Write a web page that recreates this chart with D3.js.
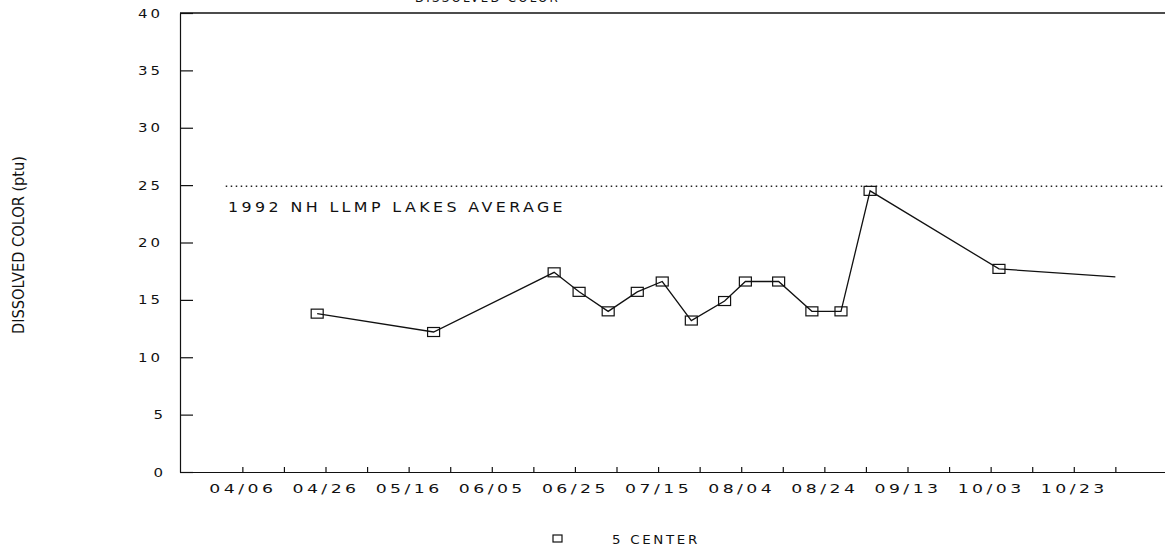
<!DOCTYPE html>
<html>
<head>
<meta charset="utf-8">
<script src="https://cdn.jsdelivr.net/npm/d3@7"></script>
<style>
  body { margin: 0; background: #fff; }
  svg { display: block; }
  text { font-family: "DejaVu Sans", sans-serif; fill: #111; }
</style>
</head>
<body>
<svg width="1165" height="550"></svg>
<script>
// sampling dates (1992) and dissolved colour readings, station 5 CENTER
const sampleDates = ["04/24", "05/22", "06/20", "06/26", "07/03", "07/10", "07/16", "07/23",
                     "07/31", "08/05", "08/13", "08/21", "08/28", "09/04", "10/05", "11/02"];
const colorValues = [13.8, 12.2, 17.4, 15.7, 14.0, 15.7, 16.6, 13.2,
                     14.9, 16.6, 16.6, 14.0, 14.0, 24.5, 17.7, 17.0];
// last reading is drawn without a marker in the original
const markerShown = sampleDates.map((d, i) => i < sampleDates.length - 1);

const lakesAverage = 24.9;
const xTickLabels = ["04/06", "04/26", "05/16", "06/05", "06/25", "07/15",
                     "08/04", "08/24", "09/13", "10/03", "10/23"];
const yTicks = [0, 5, 10, 15, 20, 25, 30, 35, 40];

const parse = d3.utcParse("%m/%d/%Y");
const day = s => parse(s + "/1992");

const svg = d3.select("svg");

// wide plotter-like lettering: spread and stretch to a measured width
function wide(sel, len, spacing) {
    sel.attr("letter-spacing", spacing)
       .attr("textLength", len)
       .attr("lengthAdjust", "spacingAndGlyphs");
}

const x = d3.scaleUtc()
    .domain([day("03/22"), day("11/22")])
    .range([180, 1198.5]);
const y = d3.scaleLinear().domain([0, 40]).range([472, 13]);

// ticks every 10 days, labelled every 20
const tickDates = d3.range(0, 22).map(i => d3.utcDay.offset(day("04/06"), i * 10));

const xAxis = svg.append("g")
    .attr("transform", "translate(0,472)")
    .call(d3.axisBottom(x)
        .tickValues(tickDates)
        .tickSizeInner(-5)
        .tickSizeOuter(0)
        .tickPadding(12)
        .tickFormat((d, i) => i % 2 === 0 ? (xTickLabels[i / 2] || "") : ""));
xAxis.selectAll("text")
    .attr("font-size", 12.5)
    .attr("font-family", "DejaVu Sans")
    .each(function() {
        if (this.textContent) wide(d3.select(this), 67, 2.5);
    });

const yAxis = svg.append("g")
    .attr("transform", "translate(180,0)")
    .call(d3.axisLeft(y)
        .tickValues(yTicks)
        .tickSizeInner(-13)
        .tickSizeOuter(0)
        .tickPadding(17));
yAxis.selectAll("text")
    .attr("font-size", 12.5)
    .attr("font-family", "DejaVu Sans")
    .each(function() {
        if (this.textContent.length > 1) wide(d3.select(this), 25, 2.5);
        else d3.select(this).attr("transform", "scale(1.2,1)").attr("x", -17 / 1.2);
    });

svg.selectAll(".domain, .tick line").attr("stroke", "#111").attr("stroke-width", 1.2);

// top frame line
svg.append("line")
    .attr("x1", x.range()[0]).attr("x2", x.range()[1])
    .attr("y1", y(40)).attr("y2", y(40))
    .attr("stroke", "#111").attr("stroke-width", 1.6);

// lakes average reference
svg.append("line")
    .attr("x1", x(day("04/02"))).attr("x2", x.range()[1])
    .attr("y1", y(lakesAverage)).attr("y2", y(lakesAverage))
    .attr("stroke", "#222").attr("stroke-width", 1.3)
    .attr("stroke-dasharray", "1.5,3.5");

svg.append("text")
    .attr("x", 228).attr("y", 211.5)
    .attr("font-size", 14)
    .call(wide, 338, 3)
    .text("1992 NH LLMP LAKES AVERAGE");

// series
const pts = sampleDates.map((d, i) => ({date: day(d), value: colorValues[i], mark: markerShown[i]}));

svg.append("path")
    .datum(pts)
    .attr("fill", "none")
    .attr("stroke", "#111")
    .attr("stroke-width", 1.3)
    .attr("d", d3.line().x(d => x(d.date)).y(d => y(d.value)));

svg.selectAll("rect.mk")
    .data(pts.filter(d => d.mark))
    .enter()
    .append("rect")
        .attr("class", "mk")
        .attr("x", d => x(d.date) - 6)
        .attr("y", d => y(d.value) - 4.5)
        .attr("width", 12)
        .attr("height", 9)
        .attr("fill", "none")
        .attr("stroke", "#111")
        .attr("stroke-width", 1.2);

// axis title
svg.append("text")
    .attr("transform", "translate(24,245) rotate(-90)")
    .attr("text-anchor", "middle")
    .attr("font-family", "Liberation Sans")
    .attr("font-size", 16)
    .attr("textLength", 178).attr("lengthAdjust", "spacingAndGlyphs")
    .text("DISSOLVED COLOR (ptu)");

// chart title, cut off at the top edge as in the scan
svg.append("text")
    .attr("x", 415).attr("y", 1.5)
    .attr("font-size", 13)
    .call(wide, 145, 2.5)
    .text("DISSOLVED COLOR");

// legend
svg.append("rect")
    .attr("x", 553).attr("y", 535)
    .attr("width", 9).attr("height", 7)
    .attr("fill", "none").attr("stroke", "#111").attr("stroke-width", 1.2);
svg.append("text")
    .attr("x", 612).attr("y", 543.5)
    .attr("font-size", 12.5)
    .call(wide, 88, 2.5)
    .text("5 CENTER");
</script>
</body>
</html>
